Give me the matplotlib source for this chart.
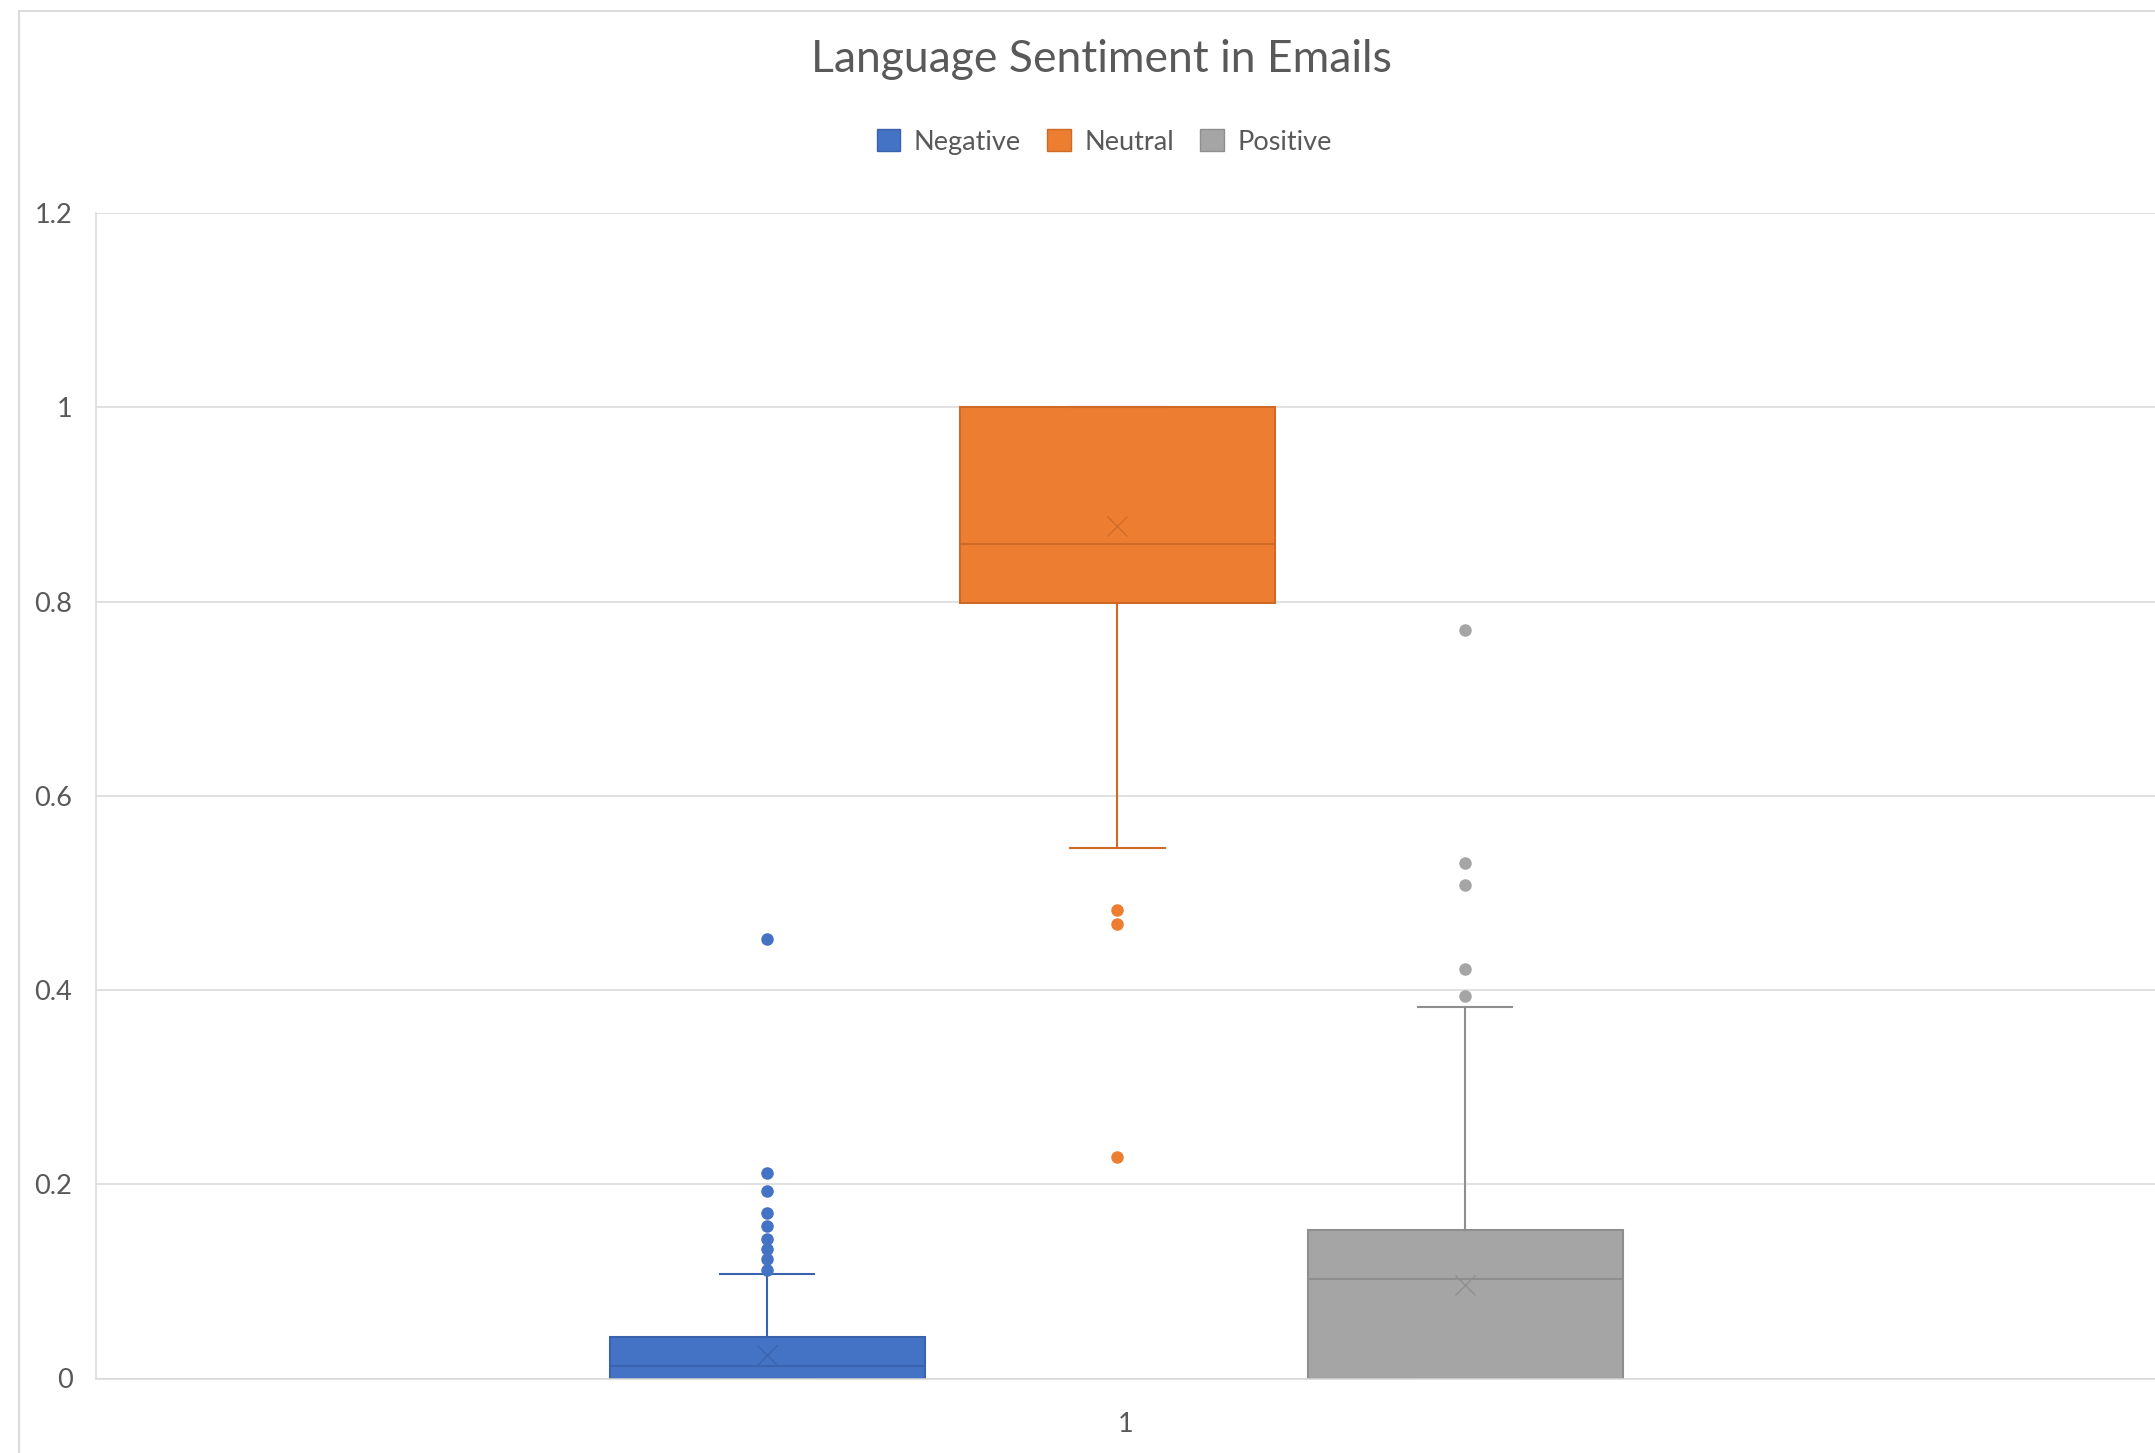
import matplotlib
matplotlib.use('Agg')
import matplotlib.pyplot as plt
from matplotlib.patches import Patch, Rectangle

plt.rcParams['font.family'] = ['Lato', 'DejaVu Sans']

# data
series = ['Negative', 'Neutral', 'Positive']
categories = ['1']
q1 = [0.0, 0.798, 0.0]
q3 = [0.043, 1.0, 0.153]
medians = [0.013, 0.859, 0.102]
means = [0.024, 0.878, 0.096]
whis_low = [0.0, 0.546, 0.0]
whis_high = [0.108, 1.0, 0.383]
fliers_neg = [0.453, 0.212, 0.193, 0.170, 0.157, 0.144, 0.133, 0.123, 0.112]
fliers_neu = [0.482, 0.468, 0.228]
fliers_pos = [0.771, 0.531, 0.508, 0.422, 0.394]
fliers = [fliers_neg, fliers_neu, fliers_pos]

face_colors = ['#4472C4', '#ED7D31', '#A5A5A5']
edge_colors = ['#3A63AE', '#CF6A26', '#8E8E8E']
text_col = '#595959'
grid_col = '#D9D9D9'

W, H = 2155, 1453
fig = plt.figure(figsize=(W / 100, H / 100), dpi=100)
fig.patch.set_facecolor('white')

# chart border (cropped on right / bottom)
fig.add_artist(Rectangle((19 / W, -0.1), 1.2, 1.1 - 11 / H,
                         transform=fig.transFigure, fill=False,
                         edgecolor=grid_col, lw=1.4))

ax = fig.add_axes([96 / W, 1 - 1378.5 / H, (2155 - 96) / W, (1378.5 - 213) / H])

positions = [0.326, 0.496, 0.665]
width = 0.153

for i in range(len(series)):
    stats = [{'med': medians[i], 'q1': q1[i], 'q3': q3[i],
              'whislo': whis_low[i], 'whishi': whis_high[i],
              'mean': means[i], 'fliers': fliers[i]}]
    ec = edge_colors[i]
    ax.bxp(stats, positions=[positions[i]], widths=width, capwidths=width * 0.3,
           patch_artist=True, showmeans=True, manage_ticks=False,
           boxprops=dict(facecolor=face_colors[i], edgecolor=ec, lw=1.5),
           medianprops=dict(color=ec, lw=1.5),
           whiskerprops=dict(color=ec, lw=1.5),
           capprops=dict(color=ec, lw=1.5),
           meanprops=dict(marker='x', markersize=14, markeredgecolor=ec,
                          markeredgewidth=0.9),
           flierprops=dict(marker='o', markersize=8, markerfacecolor=face_colors[i],
                           markeredgecolor=face_colors[i]))

ax.set_xlim(0, 1)
ax.set_ylim(0, 1.2)
ax.set_yticks([0, 0.2, 0.4, 0.6, 0.8, 1, 1.2])
ax.set_yticklabels(['0', '0.2', '0.4', '0.6', '0.8', '1', '1.2'])
ax.set_xticks([0.5])
ax.set_xticklabels(categories)
ax.tick_params(axis='y', length=0, pad=17, labelsize=19.5, labelcolor=text_col)
ax.tick_params(axis='x', length=0, pad=24, labelsize=19.5, labelcolor=text_col)
ax.grid(axis='y', color=grid_col, lw=1.1)
ax.set_axisbelow(True)
for s in ['top', 'right']:
    ax.spines[s].set_visible(False)
for s in ['left', 'bottom']:
    ax.spines[s].set_color(grid_col)
    ax.spines[s].set_linewidth(1.1)

fig.text(1101 / W, 1 - 71.7 / H, 'Language Sentiment in Emails', ha='center',
         va='baseline', fontsize=32, color=text_col)

handles = [Patch(facecolor=face_colors[i], edgecolor=edge_colors[i], lw=1.0)
           for i in range(len(series))]
fig.legend(handles, series, loc='center', bbox_to_anchor=(1104 / W, 1 - 142 / H),
           ncol=3, frameon=False, fontsize=19.5, labelcolor=text_col,
           handlelength=0.88, handleheight=0.88, handletextpad=0.5,
           columnspacing=0.95)

fig.savefig('out.png', dpi=100)
